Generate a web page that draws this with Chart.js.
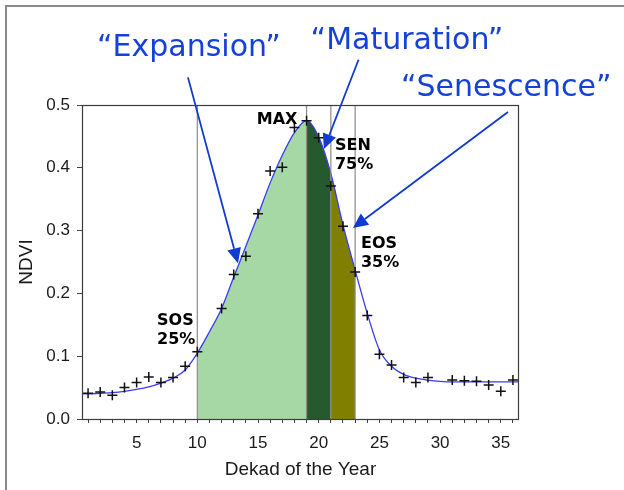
<!DOCTYPE html>
<html>
<head>
<meta charset="utf-8">
<script src="https://cdn.jsdelivr.net/npm/chart.js@4.4.1/dist/chart.umd.min.js"></script>
<style>
  html, body { margin: 0; padding: 0; background: #fff; }
  #ndvi-chart { display: block; }
</style>
</head>
<body>
<canvas id="ndvi-chart" width="624" height="490"></canvas>
<script>
// ── Data ──────────────────────────────────────────────────────────────

// observed NDVI per dekad (11 and 30 are missing)
const obsDekad = [1, 2, 3, 4, 5, 6, 7, 8, 9, 10, 12, 13, 14, 15, 16, 17, 18, 19,
                  20, 21, 22, 23, 24, 25, 26, 27, 28, 29, 31, 32, 33, 34, 35, 36];
const obsNdvi  = [0.041, 0.043, 0.038, 0.050, 0.058, 0.067, 0.058, 0.066, 0.084, 0.107,
                  0.176, 0.230, 0.259, 0.327, 0.395, 0.401, 0.464, 0.475,
                  0.448, 0.371, 0.307, 0.234, 0.165, 0.103, 0.086, 0.066, 0.058, 0.066,
                  0.062, 0.061, 0.060, 0.054, 0.044, 0.062];

// fitted curve
const curveDekad = [0.5, 1, 2, 3, 4, 5, 6, 7, 8, 9, 10, 11, 12, 13, 14, 15, 16, 17, 18,
                    19, 20, 21, 22, 23, 24, 25, 26, 27, 28, 29, 30, 31, 32, 33, 34, 35, 36, 36.5];
const curveNdvi  = [0.040, 0.040, 0.041, 0.042, 0.044, 0.047, 0.051, 0.057, 0.065, 0.078,
                    0.105, 0.139, 0.176, 0.226, 0.275, 0.325, 0.376, 0.420, 0.456,
                    0.475, 0.449, 0.391, 0.309, 0.237, 0.168, 0.110, 0.084, 0.071, 0.065,
                    0.062, 0.060, 0.059, 0.059, 0.059, 0.059, 0.059, 0.059, 0.059];

// SOS, MAX, SEN, EOS
const phaseDekads = [10, 19, 21, 23];
const phaseColors = ['#a6d8a6', '#265a2e', '#808000'];

const xTickValues  = Array.from({ length: 36 }, (_, i) => i + 1);
const xLabelValues = [5, 10, 15, 20, 25, 30, 35];
const yTickValues  = [0, 0.1, 0.2, 0.3, 0.4, 0.5];

// ── Annotations (data units) ──────────────────────────────────────────

const stageLabels = [
    { lines: ['SOS', '25%'], x: 6.68,  y: 0.150 },
    { lines: ['MAX'],        x: 14.9,  y: 0.470 },
    { lines: ['SEN', '75%'], x: 21.34, y: 0.428 },
    { lines: ['EOS', '35%'], x: 23.48, y: 0.272 },
];

const phaseTitles = [
    { text: '\u201CExpansion\u201D',  x: 9.31,  y: 0.578 },
    { text: '\u201CMaturation\u201D', x: 27.27, y: 0.589 },
    { text: '\u201CSenescence\u201D', x: 35.45, y: 0.514 },
];

const phaseArrows = [
    { from: [9.23, 0.544],  to: [13.35, 0.248] },
    { from: [23.28, 0.572], to: [20.43, 0.430] },
    { from: [35.59, 0.489], to: [22.82, 0.304] },
];

// ── Helpers ───────────────────────────────────────────────────────────

function phaseFill(x) {
    for (let i = 0; i < phaseColors.length; i++) {
        if (x >= phaseDekads[i] && x < phaseDekads[i + 1]) return phaseColors[i];
    }
    return 'rgba(0,0,0,0)';
}

function drawArrow(ctx, x1, y1, x2, y2) {
    const ang = Math.atan2(y2 - y1, x2 - x1);
    const len = 15, half = 7;
    const bx = x2 - Math.cos(ang) * len;
    const by = y2 - Math.sin(ang) * len;
    ctx.beginPath();
    ctx.moveTo(x1, y1);
    ctx.lineTo(bx, by);
    ctx.stroke();
    ctx.beginPath();
    ctx.moveTo(x2, y2);
    ctx.lineTo(bx - Math.sin(ang) * half, by + Math.cos(ang) * half);
    ctx.lineTo(bx + Math.sin(ang) * half, by - Math.cos(ang) * half);
    ctx.closePath();
    ctx.fill();
}

const decorPlugin = {
    id: 'decor',
    afterDatasetsDraw(chart) {
        const { ctx, chartArea: a } = chart;
        ctx.save();
        ctx.strokeStyle = '#3c3c3c';
        ctx.lineWidth = 1.2;
        ctx.strokeRect(a.left + 0.5, a.top + 0.5, a.right - a.left - 1, a.bottom - a.top);
        ctx.restore();
    },
    afterDraw(chart) {
        const { ctx, scales: { x, y } } = chart;
        ctx.save();

        // outer frame (left + top)
        ctx.strokeStyle = '#8a8a8a';
        ctx.lineWidth = 2;
        ctx.beginPath();
        ctx.moveTo(6, chart.height);
        ctx.lineTo(6, 6);
        ctx.lineTo(chart.width, 6);
        ctx.stroke();

        // stage labels
        ctx.fillStyle = '#000';
        ctx.font = 'bold 16px "DejaVu Sans"';
        ctx.textAlign = 'left';
        ctx.textBaseline = 'alphabetic';
        stageLabels.forEach(l => {
            const px = x.getPixelForValue(l.x);
            const py = y.getPixelForValue(l.y);
            l.lines.forEach((t, i) => ctx.fillText(t, px, py + i * 19));
        });

        // arrows
        ctx.strokeStyle = '#0f3bd0';
        ctx.fillStyle = '#0f3bd0';
        ctx.lineWidth = 1.8;
        phaseArrows.forEach(a => drawArrow(ctx,
            x.getPixelForValue(a.from[0]), y.getPixelForValue(a.from[1]),
            x.getPixelForValue(a.to[0]),   y.getPixelForValue(a.to[1])));

        // phase titles
        ctx.fillStyle = '#1442d8';
        ctx.font = '30px "DejaVu Sans"';
        ctx.textAlign = 'center';
        phaseTitles.forEach(t => ctx.fillText(t.text, x.getPixelForValue(t.x), y.getPixelForValue(t.y)));

        ctx.restore();
    },
};

// ── Chart ─────────────────────────────────────────────────────────────

Chart.defaults.font.family = '"Liberation Sans", Arial, sans-serif';
Chart.defaults.color = '#1a1a1a';

const datasets = [
    {
        label:       'Observed',
        type:        'line',
        data:        obsDekad.map((d, i) => ({ x: d, y: obsNdvi[i] })),
        showLine:    false,
        pointStyle:  'cross',
        pointRadius: 5,
        borderColor: '#111',
        borderWidth: 1.5,
        clip:        false,
    },
    ...phaseDekads.map(d => ({
        label:       'phase ' + d,
        type:        'line',
        data:        [{ x: d, y: 0 }, { x: d, y: 0.5 }],
        borderColor: '#8c8c8c',
        borderWidth: 1.2,
        pointRadius: 0,
        fill:        false,
    })),
    {
        label:                  'Fitted',
        type:                   'line',
        data:                   curveDekad.map((d, i) => ({ x: d, y: curveNdvi[i] })),
        borderColor:            '#3b3bf5',
        borderWidth:            1.3,
        backgroundColor:        'rgba(0,0,0,0)',
        pointRadius:            0,
        cubicInterpolationMode: 'monotone',
        fill:                   'origin',
        segment: {
            backgroundColor: ctx => phaseFill(ctx.p0.parsed.x),
        },
    },
];

new Chart(document.getElementById('ndvi-chart'), {
    type: 'line',
    data: { datasets },
    options: {
        responsive:       false,
        animation:        false,
        devicePixelRatio: 1,
        layout: { padding: { left: 0, top: 105, right: 105, bottom: 0 } },
        plugins: {
            legend:  { display: false },
            tooltip: { enabled: false },
        },
        scales: {
            x: {
                type: 'linear',
                min:  0.5,
                max:  36.5,
                border: { display: false },
                grid: { drawOnChartArea: false, drawTicks: true, tickLength: 4, color: '#444', lineWidth: 1 },
                ticks: {
                    autoSkip:    false,
                    maxRotation: 0,
                    padding:     10,
                    font:        { size: 17 },
                    color:       '#1a1a1a',
                    callback:    v => xLabelValues.includes(v) ? String(v) : '',
                },
                afterBuildTicks: s => { s.ticks = xTickValues.map(v => ({ value: v })); },
                afterFit: s => { s.height = 71; },
                title: {
                    display: true,
                    text:    'Dekad of the Year',
                    font:    { size: 19 },
                    color:   '#1a1a1a',
                    padding: { top: 0, bottom: 9 },
                },
            },
            y: {
                type: 'linear',
                min:  0,
                max:  0.5,
                border: { display: false },
                grid: { drawOnChartArea: false, drawTicks: true, tickLength: 5, color: '#444', lineWidth: 1 },
                ticks: {
                    padding:  7,
                    font:     { size: 17 },
                    color:    '#1a1a1a',
                    callback: v => v.toFixed(1),
                },
                afterBuildTicks: s => { s.ticks = yTickValues.map(v => ({ value: v })); },
                afterFit: s => { s.width = 82; },
                title: {
                    display: true,
                    text:    'NDVI',
                    font:    { size: 19 },
                    color:   '#1a1a1a',
                    padding: { top: 15, bottom: 0 },
                },
            },
        },
    },
    plugins: [decorPlugin],
});
</script>
</body>
</html>
